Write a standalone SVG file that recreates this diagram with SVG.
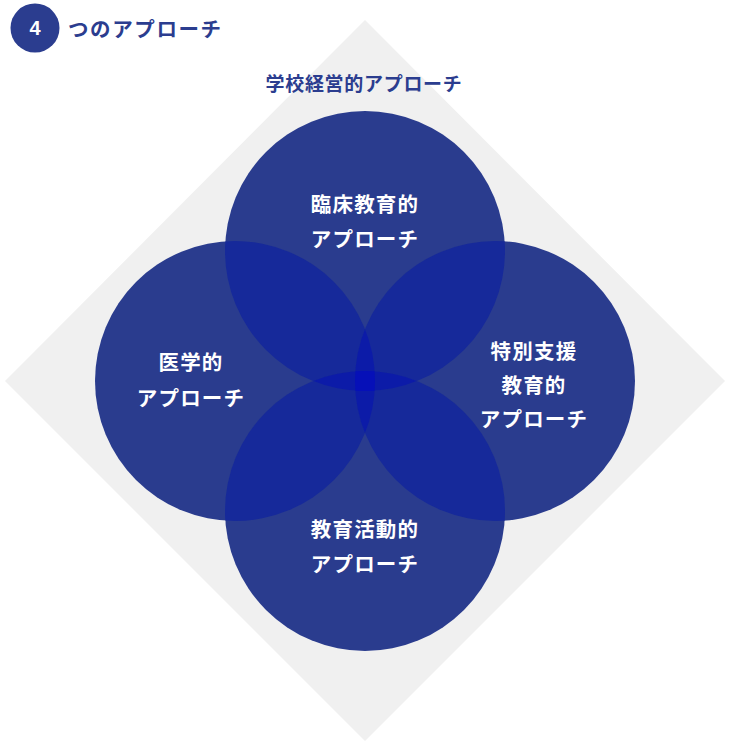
<svg xmlns="http://www.w3.org/2000/svg" width="730" height="745" viewBox="0 0 730 745">
  <style>
    .lbl { font-family: "Noto Sans CJK JP", "Noto Sans", sans-serif; font-weight: 700; font-size: 20.5px; letter-spacing: 1.2px; fill: #ffffff; text-anchor: middle; }
    .ttl { font-family: "Noto Sans CJK JP", "Noto Sans", sans-serif; font-weight: 700; fill: #2b3d8f; }
    .c1 { fill: #2a3c8e; }
    .c2 { fill: #16299a; }
    .c3 { fill: #0c1ba8; }
    .c4 { fill: #0610b8; }
  </style>
  <defs>
    <clipPath id="cT"><circle cx="365" cy="251" r="140"/></clipPath>
    <clipPath id="cB"><circle cx="365" cy="511" r="140"/></clipPath>
    <clipPath id="cL"><circle cx="235" cy="381" r="140"/></clipPath>
    <clipPath id="cR"><circle cx="495" cy="381" r="140"/></clipPath>
  </defs>
  <rect width="730" height="745" fill="#ffffff"/>

  <g id="header">
    <circle cx="35" cy="28" r="24.5" fill="#2b3d8f"/>
    <text x="35" y="35" font-family="Liberation Sans, Arial, sans-serif" font-weight="700" font-size="20" fill="#ffffff" text-anchor="middle">4</text>
    <text class="ttl" x="68" y="37" font-size="20.5" letter-spacing="1.6">つのアプローチ</text>
  </g>

  <g id="frame">
    <polygon points="365,20 725,381 365,741 5,381" fill="#f0f0f0"/>
    <text class="ttl" x="364" y="91" font-size="19" letter-spacing="0.7" text-anchor="middle">学校経営的アプローチ</text>
  </g>

  <g id="circle-top">
    <circle class="c1" cx="365" cy="251" r="140"/>
  </g>
  <g id="circle-left">
    <circle class="c1" cx="235" cy="381" r="140"/>
  </g>
  <g id="circle-right">
    <circle class="c1" cx="495" cy="381" r="140"/>
  </g>
  <g id="circle-bottom">
    <circle class="c1" cx="365" cy="511" r="140"/>
  </g>

  <g id="overlaps">
    <g clip-path="url(#cL)"><circle class="c2" cx="365" cy="251" r="140"/><circle class="c2" cx="365" cy="511" r="140"/></g>
    <g clip-path="url(#cR)"><circle class="c2" cx="365" cy="251" r="140"/><circle class="c2" cx="365" cy="511" r="140"/></g>
    <g clip-path="url(#cT)"><circle class="c3" cx="365" cy="511" r="140"/></g>
    <g clip-path="url(#cL)"><circle class="c3" cx="495" cy="381" r="140"/></g>
    <g clip-path="url(#cL)"><g clip-path="url(#cR)"><g clip-path="url(#cT)"><circle class="c4" cx="365" cy="511" r="140"/></g></g></g>
  </g>

  <g id="labels">
    <g id="label-top">
      <text class="lbl" x="365" y="212">臨床教育的</text>
      <text class="lbl" x="365" y="247">アプローチ</text>
    </g>
    <g id="label-left">
      <text class="lbl" x="191" y="370">医学的</text>
      <text class="lbl" x="191" y="406">アプローチ</text>
    </g>
    <g id="label-right">
      <text class="lbl" x="534" y="359">特別支援</text>
      <text class="lbl" x="534" y="393">教育的</text>
      <text class="lbl" x="534" y="427">アプローチ</text>
    </g>
    <g id="label-bottom">
      <text class="lbl" x="365" y="537">教育活動的</text>
      <text class="lbl" x="365" y="572">アプローチ</text>
    </g>
  </g>
</svg>
